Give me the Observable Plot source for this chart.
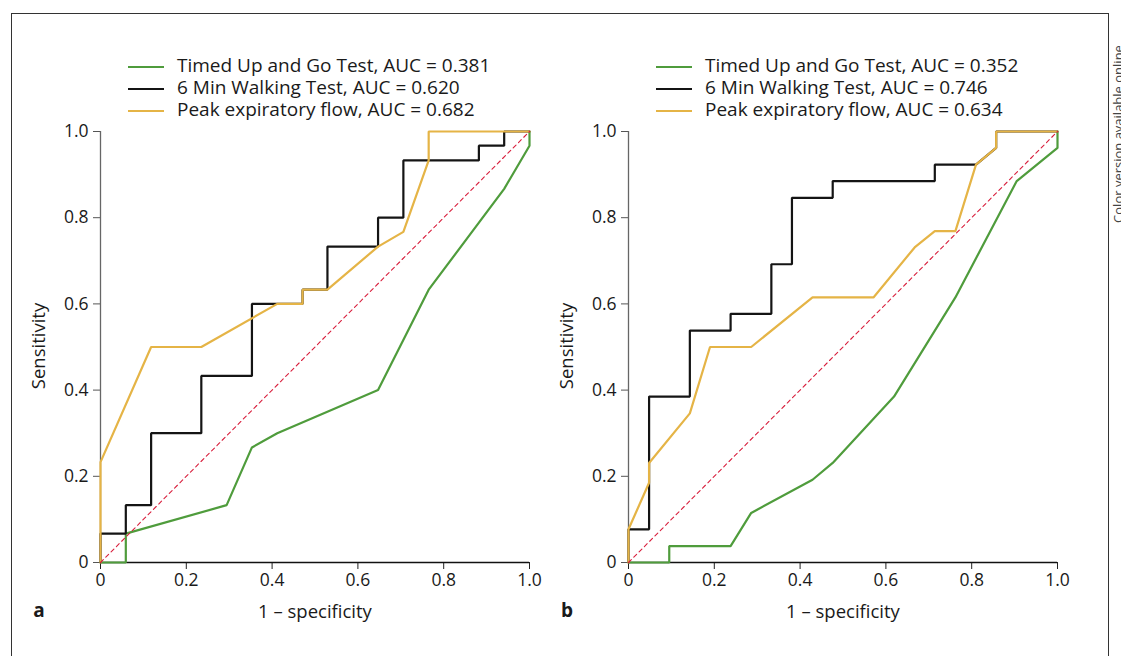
<!DOCTYPE html>
<html>
<head>
<meta charset="utf-8">
<script src="https://cdn.jsdelivr.net/npm/d3@7"></script>
<script src="https://cdn.jsdelivr.net/npm/@observablehq/plot@0.6"></script>
<style>
  html, body { margin: 0; padding: 0; background: #fff; }
  body { width: 1121px; height: 656px; position: relative; overflow: hidden; font-family: "Open Sans", sans-serif; color: #1a1a1a; }
  .frame { position: absolute; left: 11px; top: 13px; width: 1096px; height: 700px; border: 1.3px solid #333; border-bottom: none; }
  .panel { position: absolute; top: 0; }
  .panel svg text { font-size: 17.5px !important; font-family: "Open Sans", sans-serif; fill: #1a1a1a; }
  .leg-line { position: absolute; width: 36px; height: 0; border-top: 2.2px solid; }
  .leg-text { position: absolute; font-size: 19px; white-space: nowrap; line-height: 19px; height: 19px; }
  .ylab { position: absolute; font-size: 18.5px; transform: translate(-50%, -50%) rotate(-90deg); white-space: nowrap; }
  .xlab { position: absolute; font-size: 18.5px; transform: translate(-50%, -50%); white-space: nowrap; }
  .letter { position: absolute; font-size: 19px; font-weight: bold; transform: translate(-50%, -50%); }
  .note { position: absolute; font-size: 13px; color: #444; transform: translate(-50%, -50%) rotate(-90deg); white-space: nowrap; }
</style>
</head>
<body>
<div class="frame"></div>
<div id="root"></div>
<script>
// ---------- data ----------
const ticks = [0, 0.2, 0.4, 0.6, 0.8, 1.0];
const seriesNames = ["Timed Up and Go Test", "6 Min Walking Test", "Peak expiratory flow"];
const aucA = ["0.381", "0.620", "0.682"];
const aucB = ["0.352", "0.746", "0.634"];
const colors = ["#4f9c3c", "#141414", "#e5b446"];
const diagX = [0, 1];
const diagY = [0, 1];

// Panel a
const aTugX = [0, 0.059, 0.059, 0.294, 0.353, 0.412, 0.647, 0.765, 0.941, 1, 1];
const aTugY = [0, 0, 0.067, 0.133, 0.267, 0.3, 0.4, 0.633, 0.867, 0.967, 1];
const aSmwX = [0, 0, 0.059, 0.059, 0.118, 0.118, 0.235, 0.235, 0.353, 0.353, 0.471, 0.471, 0.529, 0.529, 0.647, 0.647, 0.706, 0.706, 0.882, 0.882, 0.941, 0.941, 1];
const aSmwY = [0, 0.067, 0.067, 0.133, 0.133, 0.3, 0.3, 0.433, 0.433, 0.6, 0.6, 0.633, 0.633, 0.733, 0.733, 0.8, 0.8, 0.933, 0.933, 0.967, 0.967, 1, 1];
const aPefX = [0, 0, 0.118, 0.235, 0.412, 0.471, 0.471, 0.529, 0.647, 0.706, 0.765, 0.765, 1];
const aPefY = [0, 0.233, 0.5, 0.5, 0.6, 0.6, 0.633, 0.633, 0.733, 0.767, 0.933, 1, 1];

// Panel b
const bTugX = [0, 0.095, 0.095, 0.238, 0.286, 0.429, 0.476, 0.619, 0.762, 0.905, 1, 1];
const bTugY = [0, 0, 0.038, 0.038, 0.115, 0.192, 0.231, 0.385, 0.615, 0.885, 0.962, 1];
const bSmwX = [0, 0, 0.048, 0.048, 0.143, 0.143, 0.238, 0.238, 0.333, 0.333, 0.381, 0.381, 0.476, 0.476, 0.714, 0.714, 0.810, 0.857, 0.857, 1];
const bSmwY = [0, 0.077, 0.077, 0.385, 0.385, 0.538, 0.538, 0.577, 0.577, 0.692, 0.692, 0.846, 0.846, 0.885, 0.885, 0.923, 0.923, 0.962, 1, 1];
const bPefX = [0, 0, 0.048, 0.048, 0.143, 0.190, 0.286, 0.429, 0.571, 0.667, 0.714, 0.762, 0.810, 0.857, 0.857, 1];
const bPefY = [0, 0.077, 0.185, 0.231, 0.346, 0.5, 0.5, 0.615, 0.615, 0.731, 0.769, 0.769, 0.923, 0.962, 1, 1];

// ---------- drawing ----------
const fmt = d => d === 0 ? "0" : d.toFixed(1);
const toRows = (xs, ys) => xs.map((x, i) => ({x, y: ys[i]}));

function panel(left, letter, aucs, curves) {
  const W = 560, H = 656;
  const chart = Plot.plot({
    width: W, height: H,
    marginLeft: 100, marginRight: W - 100 - 429, marginTop: 131, marginBottom: H - 562,
    x: {domain: [0, 1]},
    y: {domain: [0, 1]},
    style: {background: "none", fontFamily: "'Open Sans', sans-serif", fontSize: "17.5px", color: "#1a1a1a", overflow: "visible"},
    marks: [
      Plot.axisX({ticks, tickFormat: fmt, tickSize: 7, tickPadding: 4, label: null, stroke: "#222", fontSize: 17.5}),
      Plot.axisY({ticks, tickFormat: fmt, tickSize: 7, tickPadding: 5, label: null, stroke: "#555", fontSize: 17.5}),
      Plot.ruleY([0], {stroke: "#111", strokeWidth: 1.3}),
      Plot.ruleX([0], {stroke: "#666", strokeWidth: 1.3}),
      ...curves.map((c, i) => Plot.line(toRows(c[0], c[1]), {x: "x", y: "y", stroke: colors[i], strokeWidth: 2.2, strokeLinejoin: "miter", curve: "linear"})),
      Plot.line(toRows(diagX, diagY), {x: "x", y: "y", stroke: "#d81e3c", strokeWidth: 1.1, strokeDasharray: "4,3.5"})
    ]
  });
  const wrap = document.createElement("div");
  wrap.className = "panel";
  wrap.style.left = left + "px";
  wrap.appendChild(chart);
  // legend
  seriesNames.forEach((name, i) => {
    const y = 66.7 + i * 22;
    const ln = document.createElement("div");
    ln.className = "leg-line";
    ln.style.left = "128px"; ln.style.top = (y - 1) + "px"; ln.style.borderTopColor = colors[i];
    wrap.appendChild(ln);
    const tx = document.createElement("div");
    tx.className = "leg-text";
    tx.style.left = "177px"; tx.style.top = (y - 10.5) + "px";
    tx.textContent = `${name}, AUC = ${aucs[i]}`;
    wrap.appendChild(tx);
  });
  const yl = document.createElement("div");
  yl.className = "ylab"; yl.style.left = "37px"; yl.style.top = "346px"; yl.textContent = "Sensitivity";
  wrap.appendChild(yl);
  const xl = document.createElement("div");
  xl.className = "xlab"; xl.style.left = "315px"; xl.style.top = "610px"; xl.textContent = "1 – specificity";
  wrap.appendChild(xl);
  const lt = document.createElement("div");
  lt.className = "letter"; lt.style.left = "39px"; lt.style.top = "610px"; lt.textContent = letter;
  wrap.appendChild(lt);
  document.getElementById("root").appendChild(wrap);
}

panel(0, "a", aucA, [[aTugX, aTugY], [aSmwX, aSmwY], [aPefX, aPefY]]);
panel(528, "b", aucB, [[bTugX, bTugY], [bSmwX, bSmwY], [bPefX, bPefY]]);

const note = document.createElement("div");
note.className = "note";
note.style.left = "1118px"; note.style.top = "134px";
note.textContent = "Color version available online";
document.body.appendChild(note);
</script>
</body>
</html>
